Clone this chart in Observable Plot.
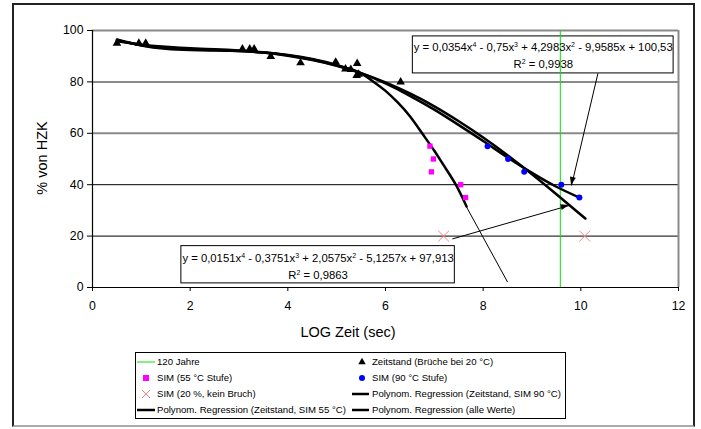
<!DOCTYPE html>
<html><head><meta charset="utf-8">
<script src="https://cdn.jsdelivr.net/npm/d3@7"></script>
<script src="https://cdn.jsdelivr.net/npm/@observablehq/plot@0.6"></script>
<style>
body{margin:0;background:#fff;}
#wrap{position:relative;width:701px;height:429px;overflow:hidden;font-family:"Liberation Sans",Arial,sans-serif;background:#fff;}
#chart{position:absolute;left:0;top:0;}
#frame{position:absolute;left:12px;top:3px;width:679px;height:420px;border:2px solid #222;border-bottom-color:#aaa;pointer-events:none;}
#legend{position:absolute;left:135px;top:352px;}
</style></head><body>
<div id="wrap"><div id="chart"></div><div id="legend"></div><div id="frame"></div></div>
<script>
// ---- data ----
const xTicks = [0, 2, 4, 6, 8, 10, 12];
const yTicks = [0, 20, 40, 60, 80, 100];
const gridBlack = [20, 40];
const gridGray = [60, 80];

const zeitX = [0.5, 0.95, 1.09, 3.07, 3.22, 3.31, 3.65, 4.26, 4.98, 5.18, 5.29, 5.42, 5.41, 5.45, 6.31];
const zeitY = [95.0, 95.0, 95.0, 92.8, 92.8, 92.8, 89.9, 87.4, 87.7, 85.0, 84.8, 87.2, 82.5, 83.0, 80.0];
const sim55X = [6.91, 6.98, 6.94, 7.54, 7.64];
const sim55Y = [55, 50, 45, 40, 35];
const sim90X = [8.09, 8.51, 8.84, 9.60, 9.97];
const sim90Y = [55, 50, 45, 40, 35];
const sim20X = [7.19, 10.08];
const sim20Y = [20, 20];
const jahre120 = 9.58;

// regression curves (Zeitstand, SIM 90 °C)
const reg90X = [0.5, 1, 1.5, 2, 2.5, 3, 3.5, 4, 4.5, 5, 5.5, 6, 6.5, 7, 7.5, 8, 8.5, 9, 9.5, 9.97];
const reg90Y = [96.5, 94.2, 92.9, 92.4, 92.2, 92.0, 91.5, 90.5, 88.9, 86.6, 83.4, 79.4, 74.6, 69.2, 63.2, 57.0, 50.6, 44.6, 39.2, 35.0];
// (alle Werte)
const regAllX = [0.5, 1, 1.5, 2, 2.5, 3, 3.5, 4, 4.5, 5, 5.5, 6, 6.5, 7, 7.5, 8, 8.5, 9, 9.5, 10, 10.09];
const regAllY = [95.8, 94.5, 93.7, 93.1, 92.7, 92.2, 91.4, 90.2, 88.5, 86.3, 83.4, 79.8, 75.5, 70.5, 64.7, 58.4, 51.5, 44.1, 36.3, 28.3, 26.9];
// (Zeitstand, SIM 55 °C)
const reg55X = [0.5, 1, 1.5, 2, 2.5, 3, 3.5, 4, 4.5, 5, 5.3, 5.5, 5.76, 6.0, 6.25, 6.5, 6.75, 7.0, 7.2, 7.44, 7.66];
const reg55Y = [96.2, 94.3, 93.3, 92.7, 92.4, 92.0, 91.4, 90.4, 88.7, 86.4, 84.9, 83.3, 80.0, 76.5, 72.0, 66.6, 60.0, 53.2, 47.3, 40.0, 31.5];

// annotations
const eqTop = ["y = 0,0354x^4 - 0,75x^3 + 4,2983x^2 - 9,9585x + 100,53", "R^2 = 0,9938"];
const eqBottom = ["y = 0,0151x^4 - 0,3751x^3 + 2,0575x^2 - 5,1257x + 97,913", "R^2 = 0,9863"];
const boxX1 = [6.56, 1.82], boxX2 = [11.9, 7.42], boxY1 = [83.3, 1.6], boxY2 = [97.7, 16.1];
const eqTextX = [9.23, 9.23, 4.62, 4.62], eqTextY = [93.5, 86.8, 11.3, 4.7];
const arrowX1 = [10.35, 7.37], arrowY1 = [83.3, 18.9], arrowX2 = [9.81, 9.76], arrowY2 = [39.7, 31.9];
const thinX = [7.64, 8.5], thinY = [32, 2.1];

const xLabel = "LOG Zeit (sec)";
const yLabel = "% von HZK";
const legendItems = [
  ["line", "#00e600", "120 Jahre"], ["tri", "black", "Zeitstand (Brüche bei 20 °C)"],
  ["sq", "#ff00ff", "SIM (55 °C Stufe)"], ["dot", "#0000ff", "SIM (90 °C Stufe)"],
  ["x", "#ff8080", "SIM (20 %, kein Bruch)"], ["line", "black", "Polynom. Regression (Zeitstand, SIM 90 °C)"],
  ["line", "black", "Polynom. Regression (Zeitstand, SIM 55 °C)"], ["line", "black", "Polynom. Regression (alle Werte)"]
];

// ---- build ----
const pts = (X, Y) => X.map((x, i) => ({x, y: Y[i]}));
const boxes = boxX1.map((x1, i) => ({x1, x2: boxX2[i], y1: boxY1[i], y2: boxY2[i]}));
const eqTexts = [...eqTop, ...eqBottom].map((t, i) => ({t, x: eqTextX[i], y: eqTextY[i]}));
const arrows = arrowX1.map((x1, i) => ({x1, y1: arrowY1[i], x2: arrowX2[i], y2: arrowY2[i]}));
const FONT = "Liberation Sans, Arial, sans-serif";

const plot = Plot.plot({
  width: 701, height: 345,
  marginLeft: 92, marginRight: 23, marginTop: 30, marginBottom: 58,
  x: {domain: [0, 12]}, y: {domain: [0, 100]},
  style: {fontFamily: FONT, fontSize: "12px", background: "white", color: "black", overflow: "visible"},
  marks: [
    Plot.ruleY(gridBlack, {stroke: "black", strokeWidth: 1}),
    Plot.ruleY(gridGray, {stroke: "#8a8a8a", strokeWidth: 2}),
    Plot.ruleY([100], {stroke: "#8a8a8a", strokeWidth: 2}),
    Plot.ruleX([12], {stroke: "#8a8a8a", strokeWidth: 2}),
    Plot.axisY({ticks: yTicks, tickSize: 5, tickPadding: 4, label: null, fontSize: 12.3}),
    Plot.axisX({ticks: xTicks, tickSize: 4, tickPadding: 10, label: null, fontSize: 12.3}),
    Plot.ruleY([0], {stroke: "black", strokeWidth: 1.2}),
    Plot.ruleX([0], {stroke: "black", strokeWidth: 1.2}),
    Plot.rect(boxes, {x1: "x1", x2: "x2", y1: "y1", y2: "y2", fill: "white", stroke: "black", strokeWidth: 1}),
    Plot.ruleX([jahre120], {y1: 0, y2: 100, stroke: "#00e600", strokeWidth: 1}),
    Plot.link([{x1: thinX[0], y1: thinY[0], x2: thinX[1], y2: thinY[1]}], {x1: "x1", y1: "y1", x2: "x2", y2: "y2", stroke: "black", strokeWidth: 1}),
    Plot.line(pts(reg55X, reg55Y), {x: "x", y: "y", curve: "natural", stroke: "black", strokeWidth: 2.5}),
    Plot.line(pts(reg90X, reg90Y), {x: "x", y: "y", curve: "natural", stroke: "black", strokeWidth: 2.5}),
    Plot.line(pts(regAllX, regAllY), {x: "x", y: "y", curve: "natural", stroke: "black", strokeWidth: 2.5}),
    Plot.dot(pts(zeitX, zeitY), {x: "x", y: "y", symbol: "triangle", r: 3.2, fill: "black"}),
    Plot.dot(pts(sim55X, sim55Y), {x: "x", y: "y", symbol: "square", r: 3, fill: "#ff00ff"}),
    Plot.dot(pts(sim90X, sim90Y), {x: "x", y: "y", symbol: "circle", r: 3, fill: "#0000ff"}),
    Plot.dot(pts(sim20X, sim20Y), {x: "x", y: "y", symbol: "times", r: 5, stroke: "#ff8080", strokeWidth: 1}),
    Plot.link(arrows, {x1: "x1", y1: "y1", x2: "x2", y2: "y2", stroke: "black", strokeWidth: 1}),
    Plot.text(eqTexts, {x: "x", y: "y", text: "t", fontSize: 11.3, fill: "black"})
  ]
});

// superscripts
d3.select(plot).selectAll("text").each(function () {
  const t = this.textContent;
  if (!t.includes("^")) return;
  const parts = t.split(/\^(\d)/);
  const sel = d3.select(this);
  sel.text(null);
  parts.forEach((p, i) => {
    if (i % 2 === 0) {
      sel.append("tspan").attr("dy", i === 0 ? null : "4px").text(p === "" ? "\u200b" : p);
    } else {
      sel.append("tspan").attr("dy", "-4px").attr("font-size", "7px").text(p);
    }
  });
});

const svg = d3.select(plot);
// filled arrow heads via the plot's own scales
const sx = plot.scale("x"), sy = plot.scale("y");
arrows.forEach(a => {
  const x1 = sx.apply(a.x1), y1 = sy.apply(a.y1), x2 = sx.apply(a.x2), y2 = sy.apply(a.y2);
  const L = Math.hypot(x2 - x1, y2 - y1), ux = (x2 - x1) / L, uy = (y2 - y1) / L;
  const hl = 8, hw = 3;
  const bx = x2 - ux * hl, by = y2 - uy * hl;
  svg.append("path").attr("d", `M${x2},${y2}L${bx - uy * hw},${by + ux * hw}L${bx + uy * hw},${by - ux * hw}Z`).attr("fill", "black");
});

svg.append("text").attr("x", 348).attr("y", 333).attr("text-anchor", "middle").attr("dominant-baseline", "middle")
  .attr("font-size", 14.5).attr("font-family", FONT).attr("fill", "black").text(xLabel);
svg.append("text").attr("transform", "translate(43,158) rotate(-90)").attr("text-anchor", "middle").attr("dominant-baseline", "middle")
  .attr("font-size", 14.5).attr("font-family", FONT).attr("fill", "black").text(yLabel);

document.getElementById("chart").appendChild(plot);

// legend
const lg = d3.select("#legend").append("svg").attr("width", 431).attr("height", 67).style("display", "block");
lg.append("rect").attr("x", 0.5).attr("y", 0.5).attr("width", 430).attr("height", 66).attr("fill", "white").attr("stroke", "black");
legendItems.forEach((it, i) => {
  const col = i % 2, row = Math.floor(i / 2);
  const cy = 10 + row * 16;
  const lx0 = col ? 217 : 2, lx1 = col ? 234 : 20, cx = col ? 227 : 11, tx = col ? 237 : 22;
  const g = lg.append("g");
  const [kind, color, label] = it;
  if (kind === "line") g.append("line").attr("x1", lx0).attr("x2", lx1).attr("y1", cy).attr("y2", cy).attr("stroke", color).attr("stroke-width", color === "black" ? 2.5 : 1);
  else if (kind === "tri") g.append("path").attr("d", d3.symbol(d3.symbolTriangle, 24)()).attr("transform", `translate(${cx},${cy})`).attr("fill", color);
  else if (kind === "sq") g.append("rect").attr("x", cx - 3).attr("y", cy - 3).attr("width", 6).attr("height", 6).attr("fill", color);
  else if (kind === "dot") g.append("circle").attr("cx", cx).attr("cy", cy).attr("r", 3).attr("fill", color);
  else if (kind === "x") g.append("path").attr("d", `M${cx-4},${cy-4}L${cx+4},${cy+4}M${cx-4},${cy+4}L${cx+4},${cy-4}`).attr("stroke", color).attr("stroke-width", 1);
  g.append("text").attr("x", tx).attr("y", cy).attr("dominant-baseline", "middle").attr("font-size", 9.6).attr("font-family", FONT).attr("fill", "black").text(label);
});
</script>
</body></html>
